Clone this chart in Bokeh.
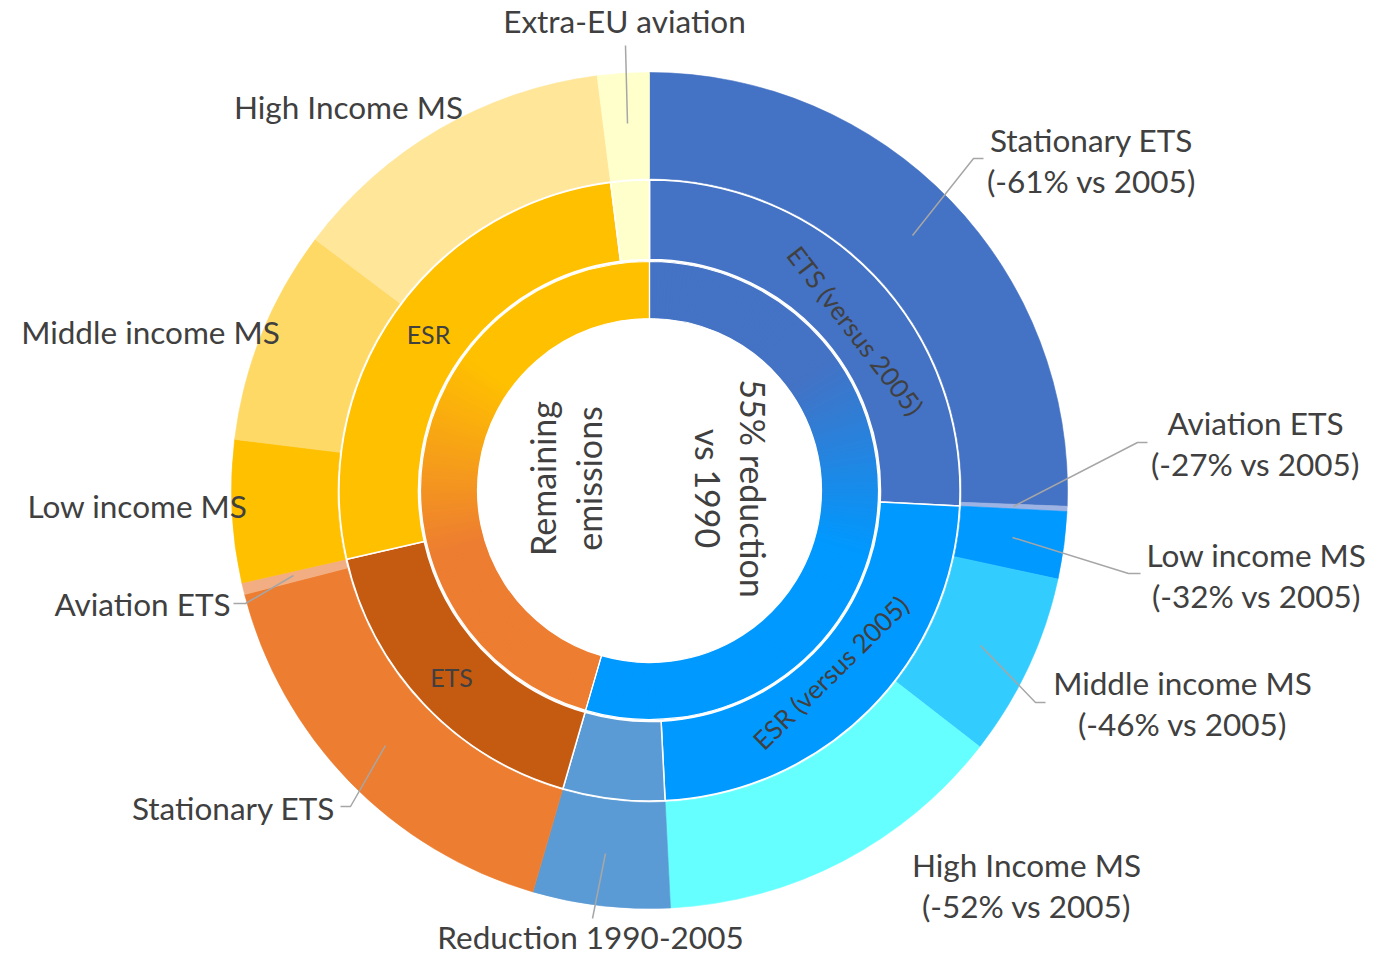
import math
import numpy as np
from bokeh.plotting import figure
from bokeh.models import Range1d
from bokeh.core.properties import value
from bokeh.embed import file_html
from bokeh.resources import INLINE

# ---------------- data: share of 1990 emissions (%), clockwise from 12 o'clock
top_labels = ["55% reduction vs 1990", "Remaining emissions"]

group_labels = ["ETS (versus 2005)", "ESR (versus 2005)", "Reduction 1990-2005",
                "ETS", "ESR", "Extra-EU aviation"]
group_parent = [0, 0, 0, 1, 1, 1]

leaf_labels = ["Stationary ETS (-61% vs 2005)", "Aviation ETS (-27% vs 2005)",
               "Low income MS (-32% vs 2005)", "Middle income MS (-46% vs 2005)",
               "High Income MS (-52% vs 2005)", "Reduction 1990-2005",
               "Stationary ETS", "Aviation ETS", "Low income MS",
               "Middle income MS", "High Income MS", "Extra-EU aviation"]
leaf_parent = [0, 0, 1, 1, 1, 2, 3, 3, 4, 4, 4, 5]
leaf_values = [25.6, 0.2, 2.6, 7.1, 13.7, 5.3, 16.5, 0.45, 5.5, 8.3, 12.75, 2.0]

# ---------------- styles
leaf_colors = ["#4472C4", "#9DB3E3", "#0099FF", "#33CCFF", "#66FFFF", "#5B9BD5",
               "#ED7D31", "#F2AE82", "#FFC000", "#FFD966", "#FFE699", "#FFFFCC"]
group_colors = ["#4472C4", "#0099FF", "#5B9BD5", "#C55A11", "#FFC000", "#FFFFCC"]
top_gradients = [("#4472C4", "#0099FF"), ("#FFC000", "#ED7D31")]
TEXT = "#404040"
LEAD = "#A6A6A6"
FONT = "Lato"

# ---------------- layout (pixels of the picture, origin top-left)
W, H = 1375, 957
CX_IMG, CY_IMG = 649, 490


def X(xi):
    return xi


def Y(yi):
    return H - yi


cx, cy = X(CX_IMG), Y(CY_IMG)
R_HOLE, R_IN = 172, 229
R_MID0, R_MID1 = 231, 310.5
R_OUT0, R_OUT1 = 312, 418

# ---------------- derived values
group_values = [sum(v for v, g in zip(leaf_values, leaf_parent) if g == i)
                for i in range(len(group_labels))]
top_values = [sum(v for v, t in zip(group_values, group_parent) if t == i)
              for i in range(len(top_labels))]
TOTAL = float(sum(leaf_values))


def spans(vals):
    c = np.concatenate([[0.0], np.cumsum(vals)]) / TOTAL * 360.0
    return c[:-1], c[1:]


def to_bokeh(theta_deg):
    return np.radians(90.0 - np.asarray(theta_deg))


p = figure(width=W, height=H, x_range=Range1d(0, W), y_range=Range1d(0, H),
           output_backend="svg", toolbar_location=None, min_border=0,
           x_axis_type=None, y_axis_type=None)
p.grid.visible = False
p.outline_line_color = None
p.background_fill_color = "white"
p.border_fill_color = "white"

# ---- outer ring (leaves)
s0, s1 = spans(leaf_values)
p.annular_wedge(x=cx, y=cy, inner_radius=R_OUT0, outer_radius=R_OUT1,
                start_angle=to_bokeh(s0), end_angle=to_bokeh(s1), direction="clock",
                fill_color=leaf_colors, line_color=leaf_colors, line_width=0.6)

# ---- middle ring (groups)
g0, g1 = spans(group_values)
p.annular_wedge(x=cx, y=cy, inner_radius=R_MID0, outer_radius=R_MID1,
                start_angle=to_bokeh(g0), end_angle=to_bokeh(g1), direction="clock",
                fill_color=group_colors, line_color="white", line_width=1.5)

# ---- inner ring with vertical colour gradient
t0, t1 = spans(top_values)


def hex2rgb(h):
    h = h.lstrip("#")
    return np.array([int(h[i:i + 2], 16) for i in (0, 2, 4)], dtype=float)


def mix(c0, c1, t):
    c = hex2rgb(c0) * (1 - t) + hex2rgb(c1) * t
    return "#%02x%02x%02x" % tuple(int(round(v)) for v in c)


GY0, GY1 = 370, 548   # gradient band (picture y)
sa, ea, cols = [], [], []
for a, b, (c0, c1) in zip(t0, t1, top_gradients):
    n = int(math.ceil((b - a) / 1.0))
    edges = np.linspace(a, b, n + 1)
    for k in range(n):
        lo, hi = edges[k], edges[k + 1]
        mid = 0.5 * (lo + hi)
        yi = CY_IMG - 0.5 * (R_HOLE + R_IN) * math.cos(math.radians(mid))
        t = min(1.0, max(0.0, (yi - GY0) / (GY1 - GY0)))
        sa.append(lo)
        ea.append(min(b, hi + 0.6))
        cols.append(mix(c0, c1, t))
p.annular_wedge(x=cx, y=cy, inner_radius=R_HOLE, outer_radius=R_IN,
                start_angle=to_bokeh(sa), end_angle=to_bokeh(ea), direction="clock",
                fill_color=cols, line_color=None)
p.annular_wedge(x=cx, y=cy, inner_radius=R_HOLE, outer_radius=R_IN,
                start_angle=to_bokeh(t0), end_angle=to_bokeh(t1), direction="clock",
                fill_color=None, line_color="white", line_width=1.2)


# ---------------- texts
def txt(xi, yi, s, size, angle=0.0):
    p.text(x=[X(xi)], y=[Y(yi)], text=[s], text_font=value(FONT),
           text_font_size=f"{size}px", text_color=TEXT, text_align="center",
           text_baseline="middle", angle=angle)


def lead(pts):
    p.line(x=[X(a) for a, _ in pts], y=[Y(b) for _, b in pts],
           line_color=LEAD, line_width=1.5)


OUT = 31.5
# center
txt(753, 488, "55% reduction", 34, -math.pi / 2)
txt(708, 488, "vs 1990", 34, -math.pi / 2)
txt(542, 478, "Remaining", 34, math.pi / 2)
txt(588, 478, "emissions", 34, math.pi / 2)

# middle ring
txt(855, 330, group_labels[0], 26, math.radians(-52.5))
txt(830, 672, group_labels[1], 26, math.radians(44.5))
txt(428, 333, group_labels[4], 25)
txt(451, 676, group_labels[3], 25)

# outer labels, left side
txt(624, 20, "Extra-EU aviation", OUT)
lead([(625, 45), (627, 123)])
txt(348, 106, "High Income MS", OUT)
txt(150, 331, "Middle income MS", OUT)
txt(137, 505, "Low income MS", OUT)
txt(142, 603, "Aviation ETS", OUT)
lead([(233, 603), (245, 603), (293, 575)])
txt(233, 807, "Stationary ETS", OUT)
lead([(340, 806), (350, 806), (385, 745)])
txt(590, 936, "Reduction 1990-2005", OUT)
lead([(592, 918), (605, 853)])

# outer labels, right side
txt(1091, 139, "Stationary ETS", OUT)
txt(1091, 180, "(-61% vs 2005)", OUT)
lead([(983, 158), (973, 158), (912, 235)])
txt(1255, 422, "Aviation ETS", OUT)
txt(1255, 463, "(-27% vs 2005)", OUT)
lead([(1147, 442), (1137, 442), (1013, 506)])
txt(1256, 554, "Low income MS", OUT)
txt(1256, 595, "(-32% vs 2005)", OUT)
lead([(1140, 573), (1128, 573), (1012, 537)])
txt(1182, 682, "Middle income MS", OUT)
txt(1182, 723, "(-46% vs 2005)", OUT)
lead([(1045, 702), (1035, 702), (980, 645)])
txt(1026, 864, "High Income MS", OUT)
txt(1026, 905, "(-52% vs 2005)", OUT)

open("out.html", "w").write(file_html(p, INLINE))
